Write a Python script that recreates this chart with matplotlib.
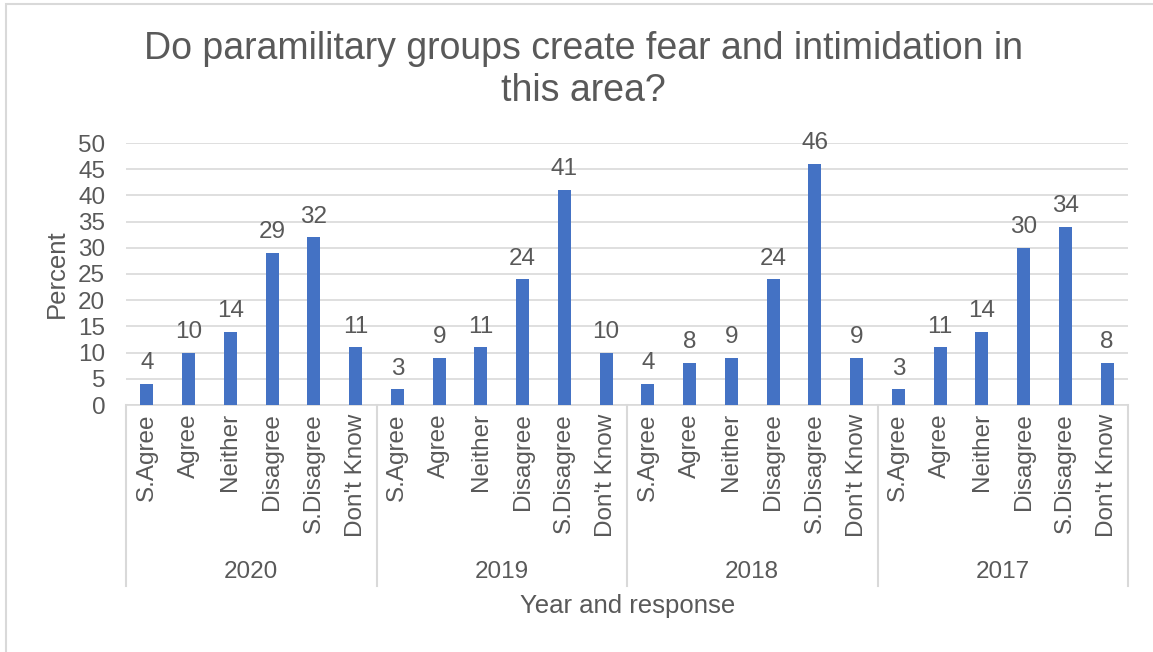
import matplotlib.pyplot as plt
from matplotlib.patches import Rectangle
import matplotlib.transforms as mtransforms

plt.rcParams['font.family'] = ['Liberation Sans', 'DejaVu Sans']

years = ["2020", "2019", "2018", "2017"]
responses = ["S.Agree", "Agree", "Neither", "Disagree", "S.Disagree", "Don't Know"]
values = {
    "2020": [4, 10, 14, 29, 32, 11],
    "2019": [3, 9, 11, 24, 41, 10],
    "2018": [4, 8, 9, 24, 46, 9],
    "2017": [3, 11, 14, 30, 34, 8],
}

bar_color = "#4472C4"
text_color = "#595959"
grid_color = "#D9D9D9"

W, H = 1153, 652
fig = plt.figure(figsize=(W / 100, H / 100), dpi=100)
ax = fig.add_axes([126 / W, 1 - 405 / H, (1128 - 126) / W, (405 - 143) / H])

heights = []
labels = []
for y in years:
    heights += values[y]
    labels += responses
xs = list(range(len(heights)))

ax.bar(xs, heights, width=0.31, color=bar_color, zorder=3)
for x, h in zip(xs, heights):
    ax.annotate(str(h), (x, h), xytext=(0, 7), textcoords="offset points",
                ha="center", va="bottom", fontsize=17.5, color=text_color)

ax.set_xlim(-0.5, len(heights) - 0.5)
ax.set_ylim(0, 50)
ax.set_yticks(range(0, 51, 5))
ax.tick_params(axis="y", length=0, labelsize=17.5, labelcolor=text_color, pad=15)
ax.set_xticks(xs)
ax.set_xticklabels(labels, rotation=90, fontsize=17.5, color=text_color)
ax.tick_params(axis="x", length=0, pad=6)
ax.grid(axis="y", color=grid_color, linewidth=1.2, zorder=0)
for s in ["top", "right", "left"]:
    ax.spines[s].set_visible(False)
ax.spines["bottom"].set_color(grid_color)
ax.spines["bottom"].set_linewidth(1.2)

trans = mtransforms.blended_transform_factory(ax.transData, ax.transAxes)
depth = -(586 - 405) / (405 - 143)
for i in range(len(years) + 1):
    xb = i * len(responses) - 0.5
    ax.plot([xb, xb], [0, depth], transform=trans, color=grid_color,
            linewidth=1.5, clip_on=False)
for i, y in enumerate(years):
    xc = i * len(responses) + (len(responses) - 1) / 2
    ax.text(xc, -(572 - 405) / (405 - 143), y, transform=trans, ha="center",
            va="center", fontsize=17.5, color=text_color)

fig.text(583 / W, 1 - 70 / H, "Do paramilitary groups create fear and intimidation in\nthis area?",
         ha="center", va="center", fontsize=27, color=text_color, linespacing=1.2)
fig.text(628 / W, 1 - 606 / H, "Year and response", ha="center", va="center",
         fontsize=18.5, color=text_color)
fig.text(57 / W, 1 - 274 / H, "Percent", ha="center", va="center", rotation=90,
         fontsize=18.5, color=text_color)

fig.patches.append(Rectangle((6 / W, -0.01), 1.2, 1 - 4 / H + 0.01, transform=fig.transFigure,
                             fill=False, edgecolor=grid_color, linewidth=1.5))

fig.savefig("out.png", dpi=100)
